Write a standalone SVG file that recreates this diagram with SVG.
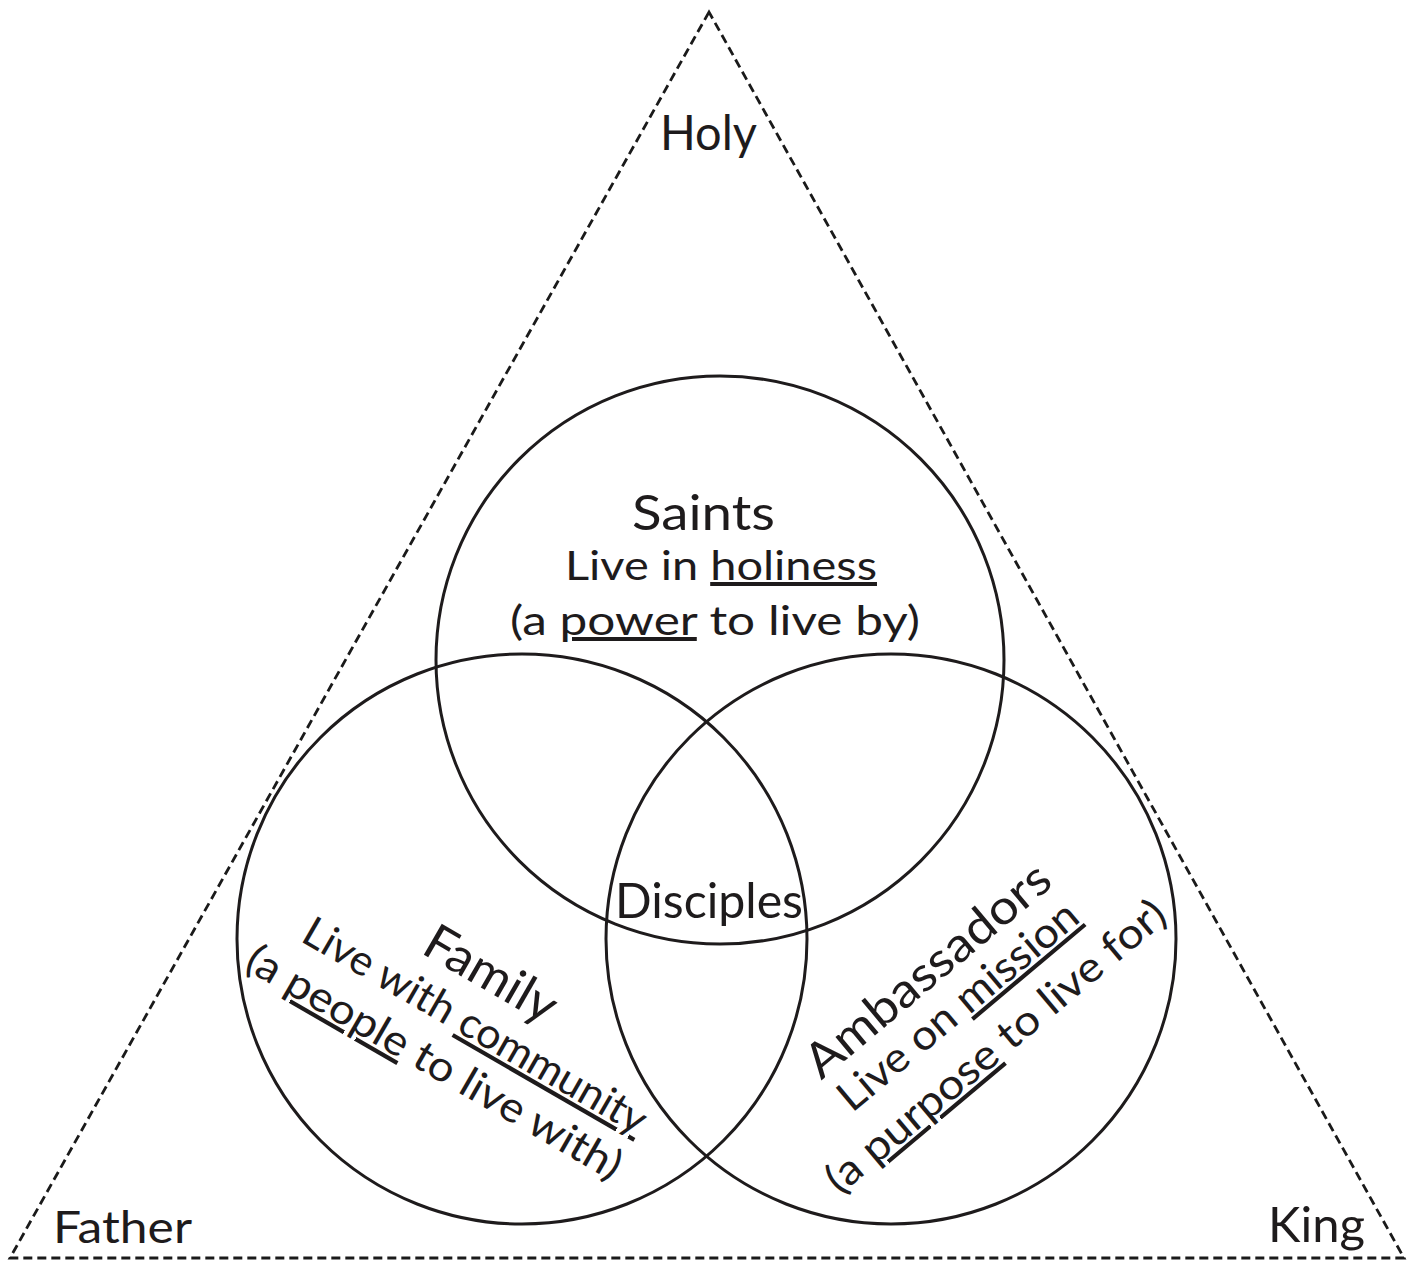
<svg xmlns="http://www.w3.org/2000/svg" width="1414" height="1262" viewBox="0 0 1414 1262">
<style>
.tri{fill:none;stroke:#1a1a1a;stroke-width:2.8;stroke-dasharray:9 5}
.c{fill:none;stroke:#1e1b1c;stroke-width:3}
text{font-family:"Lato","Noto Sans","DejaVu Sans",sans-serif;font-weight:400;fill:#1e1b1c;text-anchor:middle}
.u{text-decoration:underline;text-decoration-skip-ink:none;text-decoration-thickness:1.6px}
</style>
<rect width="1414" height="1262" fill="#ffffff"/>
<g id="connectors">
<polygon class="tri" points="709,12 10,1258 1404,1258"/>
</g>
<g id="saints">
<circle class="c" cx="720" cy="660" r="284"/>
<text x="703.5" y="530" font-size="48" textLength="143" lengthAdjust="spacingAndGlyphs">Saints</text>
<text x="721" y="580" font-size="40" textLength="312" lengthAdjust="spacingAndGlyphs">Live in <tspan class="u">holiness</tspan></text>
<text x="715" y="635" font-size="40" textLength="410" lengthAdjust="spacingAndGlyphs">(a <tspan class="u">power</tspan> to live by)</text>
</g>
<g id="family">
<circle class="c" cx="522" cy="939" r="285"/>
<g transform="translate(468,1038) rotate(30)">
<text x="-12" y="-50" font-size="50" textLength="145" lengthAdjust="spacingAndGlyphs">Family</text>
<text x="0" y="0" font-size="42" textLength="390" lengthAdjust="spacingAndGlyphs">Live with <tspan class="u">community</tspan></text>
<text x="-17" y="52" font-size="42" textLength="426" lengthAdjust="spacingAndGlyphs">(a <tspan class="u">people</tspan> to live with)</text>
</g>
</g>
<g id="ambassadors">
<circle class="c" cx="891" cy="939" r="285"/>
<g transform="translate(967,1017) rotate(-40)">
<text x="0" y="-45" font-size="48" textLength="305" lengthAdjust="spacingAndGlyphs">Ambassadors</text>
<text x="0" y="0" font-size="42" textLength="300" lengthAdjust="spacingAndGlyphs">Live on <tspan class="u">mission</tspan></text>
<text x="3" y="55" font-size="42" textLength="430" lengthAdjust="spacingAndGlyphs">(a <tspan class="u">purpose</tspan> to live for)</text>
</g>
</g>
<g id="disciples">
<text x="709" y="918" font-size="48" textLength="188" lengthAdjust="spacingAndGlyphs">Disciples</text>
</g>
<g id="holy">
<text x="708.5" y="150" font-size="49" textLength="97" lengthAdjust="spacingAndGlyphs">Holy</text>
</g>
<g id="father">
<text x="53" y="1243" font-size="44" textLength="139" lengthAdjust="spacingAndGlyphs" style="text-anchor:start">Father</text>
</g>
<g id="king">
<text x="1268" y="1242" font-size="48" textLength="97" lengthAdjust="spacingAndGlyphs" style="text-anchor:start">King</text>
</g>
</svg>
